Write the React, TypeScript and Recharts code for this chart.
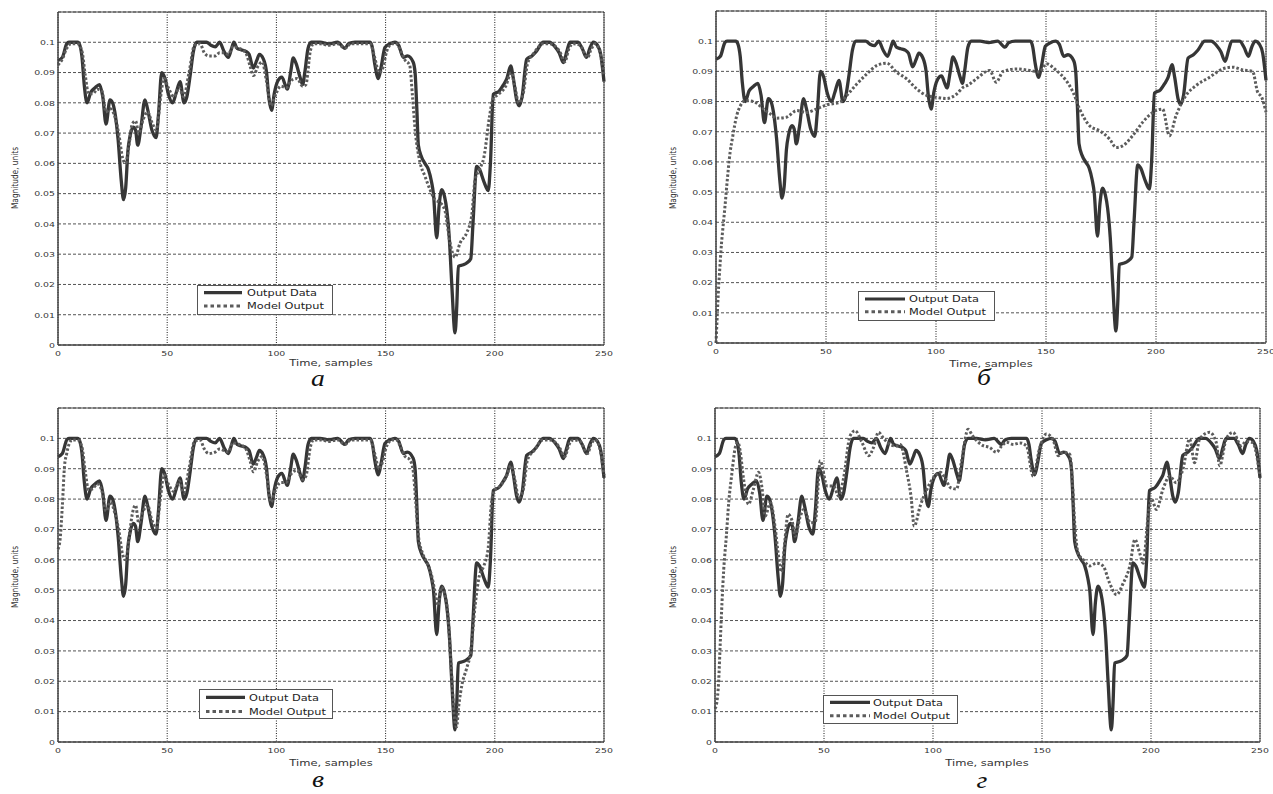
import React from "react";
import { LineChart, Line, XAxis, YAxis, CartesianGrid, ReferenceArea } from "recharts";

// ---- data (t, value) ----
const outputData: number[][] = [
  [0, 0.094], [2, 0.095], [4, 0.0995], [5, 0.1], [7, 0.1], [9, 0.1], [10, 0.099], [11, 0.095], [12, 0.086],
  [13.3, 0.08], [15, 0.0835], [17, 0.085], [19, 0.086], [20.5, 0.082], [22, 0.073], [23.8, 0.081], [25, 0.08],
  [26, 0.077], [27.5, 0.068], [29, 0.054], [30, 0.048], [31, 0.052], [32, 0.064], [33, 0.069], [34.5, 0.072],
  [35.5, 0.071], [36.5, 0.066], [38, 0.072], [39.8, 0.081], [41, 0.078], [43, 0.071], [44.9, 0.0685], [46, 0.076],
  [47.5, 0.09], [49, 0.088], [50.5, 0.083], [52.5, 0.08], [54, 0.083], [55.9, 0.087], [57.7, 0.08], [59, 0.082],
  [60.5, 0.089], [62, 0.097], [63.5, 0.1], [66, 0.1], [68, 0.1], [70, 0.099], [72, 0.0985], [74, 0.1], [76, 0.097],
  [78, 0.095], [79.5, 0.098], [80.5, 0.1], [82, 0.098], [84, 0.0975], [86, 0.097], [87.5, 0.096], [89.4, 0.0915],
  [91, 0.094], [92.2, 0.096], [94, 0.0945], [95.5, 0.09], [96.5, 0.082], [97.8, 0.0775], [99, 0.083], [100.5, 0.087],
  [102.5, 0.0885], [104, 0.086], [105, 0.0845], [106.5, 0.09], [107.7, 0.0948], [109, 0.093], [111, 0.088],
  [112, 0.086], [113, 0.09], [114.5, 0.098], [116, 0.1], [120, 0.1], [124, 0.0995], [128, 0.1], [131.4, 0.098],
  [133, 0.0995], [136, 0.1], [140, 0.1], [142.9, 0.1], [144, 0.098], [145, 0.093], [146.7, 0.088], [148, 0.092],
  [149.7, 0.0983], [152, 0.0995], [154.3, 0.1], [156, 0.099], [158.1, 0.095], [160, 0.0955], [162.6, 0.0935],
  [163.5, 0.09], [164.3, 0.078], [165, 0.066], [166.5, 0.062], [168, 0.06], [169.6, 0.058], [171, 0.054],
  [171.9, 0.05], [173.4, 0.0354], [174.5, 0.046], [175.7, 0.0513], [177, 0.049], [178, 0.0447], [179.2, 0.035],
  [180.3, 0.02], [181.8, 0.004], [182.6, 0.013], [183.3, 0.026], [185.6, 0.0265], [187, 0.027], [189, 0.0285],
  [190, 0.04], [191.7, 0.059], [193, 0.058], [195, 0.054], [197, 0.051], [198, 0.06], [199.3, 0.0828], [202, 0.0839],
  [204, 0.086], [205.5, 0.088], [207.3, 0.0922], [208.5, 0.088], [210, 0.081], [211.2, 0.079], [212.5, 0.082],
  [214.6, 0.0944], [217, 0.0955], [219, 0.097], [222.2, 0.1], [225, 0.1], [227.6, 0.0985], [229.5, 0.0965],
  [231.4, 0.0933], [233, 0.097], [234.4, 0.1], [238, 0.1], [240, 0.098], [242, 0.095], [243.5, 0.098], [245.1, 0.1],
  [247, 0.099], [248.5, 0.096], [250, 0.087],
];

const modelA: number[][] = [
  [0, 0.0925], [2, 0.0945], [4, 0.098], [6, 0.0995], [9, 0.0995], [11, 0.097], [12.5, 0.089], [14, 0.083],
  [16, 0.083], [18, 0.0845], [20, 0.084], [22, 0.077], [24, 0.078], [26, 0.0755], [28, 0.069], [29.5, 0.062],
  [31, 0.06], [32.5, 0.066], [34, 0.073], [35.5, 0.074], [37, 0.07], [39, 0.0745], [41, 0.077], [43, 0.0735],
  [45, 0.071], [47, 0.082], [48.5, 0.088], [50.5, 0.085], [53, 0.082], [55.5, 0.085], [57.5, 0.082], [60, 0.09],
  [62.5, 0.099], [65, 0.0995], [67, 0.0965], [69, 0.0955], [72, 0.0955], [74, 0.0965], [76, 0.0965], [78, 0.096],
  [80, 0.0985], [83, 0.098], [86, 0.0965], [88, 0.092], [89.5, 0.089], [91.5, 0.092], [93.5, 0.0935], [95.5, 0.087],
  [97.5, 0.079], [99.5, 0.0825], [102, 0.0855], [104.5, 0.085], [107, 0.0875], [109.5, 0.088], [112, 0.0855],
  [113.5, 0.086], [115.5, 0.097], [117, 0.0995], [120, 0.0995], [124, 0.099], [128, 0.0995], [131.4, 0.098],
  [134, 0.0995], [138, 0.0995], [142, 0.0995], [143, 0.0995], [145, 0.095], [147, 0.09], [148.5, 0.091],
  [150.5, 0.097], [153, 0.0995], [155, 0.0995], [157, 0.097], [159, 0.094], [161, 0.0925], [162.3, 0.0823],
  [163.5, 0.0713], [165.8, 0.0602], [168, 0.0558], [170.3, 0.0514], [172.6, 0.048], [175, 0.047], [177.2, 0.0443],
  [179.5, 0.0337], [181.8, 0.029], [184.1, 0.0337], [187.1, 0.037], [189.4, 0.0426], [191, 0.0547], [193, 0.058],
  [195, 0.062], [197.6, 0.0756], [199, 0.081], [202, 0.083], [205, 0.0855], [207.5, 0.09], [209, 0.086], [211, 0.08],
  [213, 0.083], [215, 0.093], [218, 0.0965], [222, 0.0995], [225, 0.0995], [228, 0.0985], [230, 0.0965],
  [232, 0.0935], [234, 0.098], [236, 0.0995], [239, 0.099], [242.5, 0.095], [244, 0.0975], [246, 0.0995],
  [248, 0.097], [250, 0.089],
];

const modelB: number[][] = [
  [0, 0.0], [0.5, 0.008], [1, 0.016], [1.8, 0.0255], [2.5, 0.033], [3, 0.037], [4.1, 0.0454], [5, 0.053],
  [6.4, 0.0631], [7.5, 0.068], [9.4, 0.0753], [11, 0.0785], [13.2, 0.0803], [17, 0.08], [21.5, 0.0776],
  [24.5, 0.076], [27.6, 0.0745], [32, 0.0748], [36.7, 0.077], [41.2, 0.0764], [45.8, 0.0776], [50.3, 0.0789],
  [56.4, 0.0798], [59.4, 0.082], [64, 0.0858], [68.5, 0.0891], [73, 0.0919], [77.6, 0.0927], [82.1, 0.0897],
  [86.7, 0.0875], [91.2, 0.0842], [95.8, 0.082], [100.3, 0.0814], [104.8, 0.081], [109.4, 0.0825], [112.3, 0.0847],
  [114.7, 0.0855], [118.3, 0.0875], [124.4, 0.0903], [127.4, 0.0864], [130.5, 0.09], [136.5, 0.0908],
  [142.6, 0.0903], [147.1, 0.0898], [150.2, 0.0925], [154.7, 0.0903], [159.2, 0.0869], [162.3, 0.0831],
  [165.3, 0.0775], [169.8, 0.072], [174.4, 0.0703], [178.9, 0.0676], [181.9, 0.0648], [184.8, 0.0653],
  [189.4, 0.0687], [193.9, 0.0731], [198.5, 0.0764], [203, 0.0775], [206.1, 0.0687], [209.1, 0.0753],
  [213.6, 0.082], [218.2, 0.0853], [224.2, 0.088], [230.3, 0.0908], [234.8, 0.0914], [239.4, 0.0905],
  [243.9, 0.09], [246.2, 0.0831], [248, 0.0815], [250, 0.0765],
];

const modelC: number[][] = [
  [0, 0.0635], [1, 0.067], [2, 0.078], [3, 0.091], [4, 0.095], [5, 0.098], [6.5, 0.0995], [9, 0.0995], [11, 0.097],
  [12.5, 0.089], [14, 0.083], [16, 0.0835], [18, 0.085], [20, 0.083], [22, 0.076], [24, 0.079], [26, 0.0755],
  [28, 0.069], [29.5, 0.062], [31, 0.06], [32.5, 0.067], [34, 0.075], [35.5, 0.078], [37, 0.072], [39, 0.076],
  [41, 0.078], [43, 0.073], [45, 0.0705], [47, 0.081], [48.5, 0.088], [50.5, 0.085], [53, 0.0825], [55.5, 0.086],
  [57.5, 0.082], [60, 0.09], [62.5, 0.099], [65, 0.0995], [67, 0.0965], [69, 0.095], [72, 0.0955], [74, 0.0965],
  [76, 0.096], [78, 0.0955], [80, 0.0985], [83, 0.098], [86, 0.0965], [88, 0.0925], [89.5, 0.089], [91.5, 0.0925],
  [93.5, 0.094], [95.5, 0.088], [97.5, 0.079], [99.5, 0.083], [102, 0.0855], [104.5, 0.0855], [107, 0.0885],
  [109.5, 0.0895], [112, 0.0865], [113.5, 0.0875], [115.5, 0.097], [117, 0.0995], [120, 0.0995], [124, 0.099],
  [128, 0.0995], [131.4, 0.098], [134, 0.0995], [138, 0.0995], [143, 0.0995], [145, 0.095], [147, 0.09],
  [148.5, 0.092], [150.5, 0.0975], [153, 0.0995], [155, 0.0995], [157, 0.097], [159, 0.094], [161, 0.093],
  [162.5, 0.09], [163.5, 0.082], [165, 0.068], [167, 0.062], [169, 0.059], [171, 0.055], [172.5, 0.05],
  [174, 0.045], [175.5, 0.051], [177, 0.049], [178.5, 0.042], [180, 0.025], [181.5, 0.008], [182.5, 0.005],
  [183.5, 0.012], [185, 0.019], [187, 0.024], [189, 0.03], [191, 0.045], [193, 0.055], [195, 0.058], [197, 0.064],
  [198.5, 0.079], [200, 0.083], [202, 0.084], [205, 0.087], [207.5, 0.091], [209, 0.087], [211, 0.0805],
  [213, 0.083], [215, 0.093], [218, 0.096], [222, 0.0995], [225, 0.0995], [228, 0.0985], [230, 0.0965],
  [232, 0.094], [234, 0.098], [236, 0.0995], [239, 0.099], [242.5, 0.095], [244, 0.098], [246, 0.0995],
  [248, 0.097], [250, 0.088],
];

const modelD: number[][] = [
  [0, 0.011], [0.6, 0.0121], [1.7, 0.0204], [2.4, 0.0325], [3.2, 0.0458], [4, 0.0568], [5.2, 0.0678],
  [6.3, 0.0789], [7.8, 0.0888], [9.3, 0.097], [10.5, 0.0987], [11.5, 0.096], [13.1, 0.0866], [15.4, 0.0783],
  [17.5, 0.083], [20, 0.0888], [21.5, 0.084], [23, 0.0744], [25.4, 0.0788], [27.7, 0.07], [29, 0.062],
  [30.5, 0.056], [32, 0.066], [33.5, 0.075], [35.3, 0.073], [36.8, 0.0678], [39, 0.074], [40.7, 0.0766],
  [42.5, 0.074], [43.7, 0.0722], [46, 0.0725], [48.3, 0.0926], [51.4, 0.0843], [54.4, 0.0843], [56.7, 0.081],
  [59, 0.087], [62, 0.1009], [64.3, 0.1025], [67.4, 0.0987], [70.5, 0.0943], [72.7, 0.097], [75, 0.102],
  [77.3, 0.1], [80.4, 0.098], [83, 0.0975], [85, 0.098], [88, 0.0888], [89.9, 0.081], [91.4, 0.0711],
  [94.1, 0.0777], [97.2, 0.0832], [100.3, 0.0871], [103.3, 0.0888], [105.5, 0.087], [108, 0.0838],
  [110.8, 0.0833], [113, 0.092], [116.1, 0.103], [118, 0.101], [123, 0.0976], [126, 0.097], [129.1, 0.0954],
  [131.5, 0.0975], [133.7, 0.0987], [137, 0.098], [139.8, 0.0985], [142.9, 0.0975], [145.9, 0.0876], [149, 0.097],
  [152, 0.1014], [155.1, 0.0995], [157.4, 0.0943], [159.7, 0.0955], [162.7, 0.0948], [164, 0.085], [165, 0.072],
  [166.6, 0.0622], [168.9, 0.06], [171.9, 0.058], [175, 0.0589], [178, 0.058], [181.1, 0.0522], [184.2, 0.0485],
  [187.2, 0.0522], [190.3, 0.058], [192.6, 0.0667], [194.9, 0.062], [196.4, 0.0589], [198.7, 0.0744],
  [200.2, 0.08], [202.5, 0.0766], [205.5, 0.0833], [208.6, 0.0875], [211.6, 0.0854], [214.7, 0.09],
  [217.7, 0.0998], [220, 0.092], [222.3, 0.0998], [226.9, 0.102], [229.9, 0.0987], [231.5, 0.091],
  [234.5, 0.0998], [237.6, 0.102], [241.4, 0.0976], [243.7, 0.099], [246.7, 0.0985], [250, 0.0876],
];

const xTicks = [0, 50, 100, 150, 200, 250];
const yTicks = [0, 0.01, 0.02, 0.03, 0.04, 0.05, 0.06, 0.07, 0.08, 0.09, 0.1];
const captions = ["а", "б", "в", "г"];
const seriesNames = ["Output Data", "Model Output"];
const xTitle = "Time, samples";
const yTitle = "Magnitude, units";

const toRows = (arr: number[][]) => arr.map(([t, v]) => ({ t, v }));

const TICK_FONT = "'DejaVu Sans', sans-serif";

const XTick = (props: any) => {
  const { x, y, payload } = props;
  return (
    <text transform={`translate(${x},${y + 10.5}) scale(1.2,1)`} textAnchor="middle" fontSize={7.8}
      fontFamily={TICK_FONT} fill="#333">{payload.value}</text>
  );
};

const YTick = (props: any) => {
  const { x, y, payload } = props;
  return (
    <text transform={`translate(${x - 3},${y + 2.8}) scale(1.2,1)`} textAnchor="end" fontSize={7.8}
      fontFamily={TICK_FONT} fill="#333">{payload.value}</text>
  );
};

type PanelCfg = {
  left: number; top: number; width: number; height: number; mTop: number; mRight: number;
  model: number[][];
};

const panels: PanelCfg[] = [
  { left: 0, top: 0, width: 614, height: 365, mTop: 12, mRight: 10, model: modelA },
  { left: 658, top: 0, width: 615, height: 363, mTop: 11, mRight: 7, model: modelB },
  { left: 0, top: 396, width: 614, height: 366, mTop: 12, mRight: 10, model: modelC },
  { left: 657, top: 396, width: 613, height: 366, mTop: 12, mRight: 10, model: modelD },
];

const SOLID = "#363636";
const DOTTED = "#5c5c5c";

const Panel = ({ cfg }: { cfg: PanelCfg }) => (
  <div style={{ position: "absolute", left: cfg.left, top: cfg.top }}>
    <LineChart width={cfg.width} height={cfg.height}
      margin={{ top: cfg.mTop, right: cfg.mRight, left: 0, bottom: 0 }}>
      <CartesianGrid vertical={false} stroke="#1a1a1a" strokeWidth={0.75} strokeDasharray="3 2" />
      <CartesianGrid horizontal={false} stroke="#000" strokeWidth={0.9} strokeDasharray="1 1.5" />
      <XAxis dataKey="t" type="number" domain={[0, 250]} ticks={xTicks} interval={0} height={20}
        tickSize={0} tickMargin={0} tickLine={false} axisLine={{ stroke: "#444" }} tick={<XTick />} />
      <YAxis type="number" domain={[0, 0.11]} ticks={yTicks} interval={0} width={58} allowDataOverflow
        tickSize={0} tickMargin={0} tickLine={false} axisLine={{ stroke: "#444" }} tick={<YTick />} />
      <ReferenceArea x1={0} x2={250} y1={0} y2={0.11} fill="none" stroke="#444" strokeWidth={1} />
      <Line data={toRows(outputData)} dataKey="v" type="monotone" stroke={SOLID} strokeWidth={3.3}
        dot={false} isAnimationActive={false} />
      <Line data={toRows(cfg.model)} dataKey="v" type="monotone" stroke={DOTTED} strokeWidth={3}
        strokeDasharray="2.5 2" dot={false} isAnimationActive={false} />
    </LineChart>
  </div>
);

type LegendCfg = { x: number; y: number; w: number; h: number; lx1: number; lx2: number; tx: number; r1: number; r2: number };
const legends: LegendCfg[] = [
  { x: 197, y: 285, w: 135, h: 29, lx1: 204, lx2: 242, tx: 247, r1: 292.7, r2: 306 },
  { x: 858, y: 291, w: 136, h: 29, lx1: 865, lx2: 905, tx: 909, r1: 299, r2: 311.7 },
  { x: 199, y: 689, w: 133, h: 29, lx1: 206, lx2: 245, tx: 249, r1: 697.3, r2: 711.5 },
  { x: 823, y: 695, w: 134, h: 28, lx1: 830, lx2: 870, tx: 873, r1: 702.3, r2: 715.7 },
];

const TextDiv = ({ x, y, text, style, transform }: any) => (
  <div style={{
    position: "absolute", left: x, top: y, whiteSpace: "nowrap", lineHeight: "1",
    transform: `translate(-50%,-50%) ${transform || ""}`, ...style,
  }}>{text}</div>
);

const titleStyle = { fontFamily: TICK_FONT, fontSize: 9, color: "#333" };
const capStyle = {
  fontFamily: "'Liberation Serif', 'Times New Roman', serif", fontStyle: "italic", fontSize: 24,
  color: "#111", lineHeight: "0.6",
};

const xTitlePos = [[331, 363], [991, 364], [331, 763], [987, 763]];
const yTitlePos = [[15, 178], [673, 178], [15, 577], [673, 577]];
const capPos = [[318, 378], [984, 377], [318, 779], [982, 780]];

export default function App() {
  return (
    <div style={{ position: "absolute", left: 0, top: 0, width: 1273, height: 794, overflow: "hidden", background: "#fff" }}>
      {panels.map((p, i) => <Panel key={i} cfg={p} />)}
      {xTitlePos.map(([x, y], i) => (
        <TextDiv key={"xt" + i} x={x} y={y} text={xTitle} style={titleStyle} transform="scaleX(1.28)" />
      ))}
      {yTitlePos.map(([x, y], i) => (
        <TextDiv key={"yt" + i} x={x} y={y} text={yTitle} style={{ ...titleStyle, fontSize: 7.4 }} transform="rotate(-90deg) scaleY(1.25)" />
      ))}
      {capPos.map(([x, y], i) => (
        <TextDiv key={"cp" + i} x={x} y={y} text={captions[i]} style={capStyle} transform="scaleX(1.15)" />
      ))}
      <svg width={1273} height={794} style={{ position: "absolute", left: 0, top: 0, pointerEvents: "none" }}>
        {legends.map((l, i) => (
          <g key={i}>
            <rect x={l.x + 0.5} y={l.y + 0.5} width={l.w} height={l.h} fill="#fff" stroke="#555" strokeWidth={1} />
            <line x1={l.lx1} x2={l.lx2} y1={l.r1} y2={l.r1} stroke={SOLID} strokeWidth={3.2} />
            <line x1={l.lx1} x2={l.lx2} y1={l.r2} y2={l.r2} stroke={DOTTED} strokeWidth={3} strokeDasharray="3.5 3" />
            <text transform={`translate(${l.tx},${l.r1 + 3.3}) scale(1.26,1)`} fontSize={9} fontFamily={TICK_FONT} fill="#222">{seriesNames[0]}</text>
            <text transform={`translate(${l.tx},${l.r2 + 3.3}) scale(1.26,1)`} fontSize={9} fontFamily={TICK_FONT} fill="#222">{seriesNames[1]}</text>
          </g>
        ))}
      </svg>
    </div>
  );
}
